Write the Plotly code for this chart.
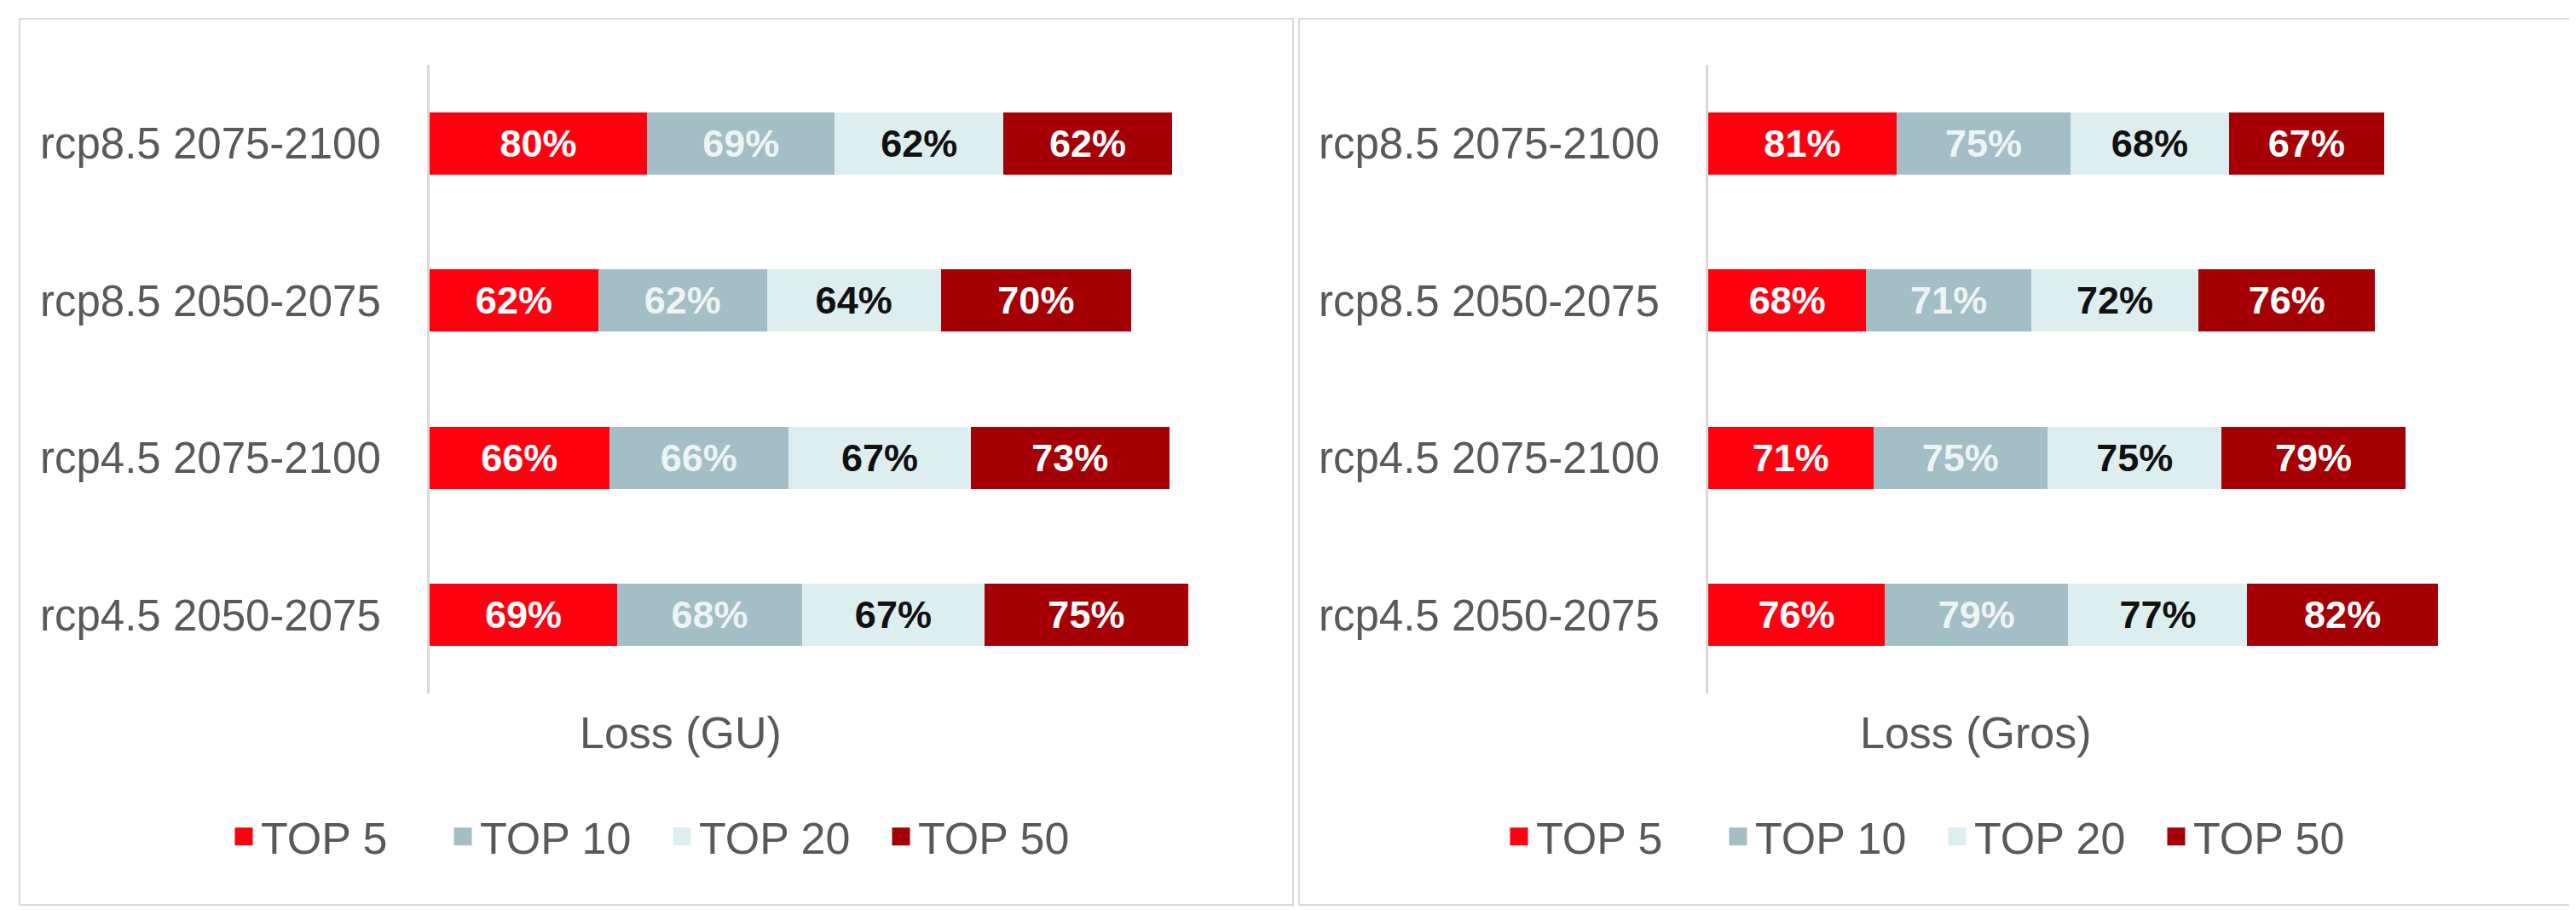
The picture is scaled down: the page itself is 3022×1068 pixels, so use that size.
import plotly.graph_objects as go

# data (% values)
scenarios = ["rcp8.5 2075-2100", "rcp8.5 2050-2075", "rcp4.5 2075-2100", "rcp4.5 2050-2075"]
groups = ["TOP 5", "TOP 10", "TOP 20", "TOP 50"]

loss_gu = {
    "TOP 5": [80, 62, 66, 69],
    "TOP 10": [69, 62, 66, 68],
    "TOP 20": [62, 64, 67, 67],
    "TOP 50": [62, 70, 73, 75],
}
loss_gros = {
    "TOP 5": [81, 68, 71, 76],
    "TOP 10": [75, 71, 75, 79],
    "TOP 20": [68, 72, 75, 77],
    "TOP 50": [67, 76, 79, 82],
}

colors = {"TOP 5": "#FF0010", "TOP 10": "#A3BEC4", "TOP 20": "#DDEEF0", "TOP 50": "#A50005"}
label_colors = {"TOP 5": "#FFFFFF", "TOP 10": "#EEF3F4", "TOP 20": "#111111", "TOP 50": "#FFFFFF"}

FONT = "Arial, Liberation Sans, sans-serif"
GREY = "#595959"
W, H = 3022, 1068

fig = go.Figure()

panels = [
    (loss_gu, "x", "y", "legend"),
    (loss_gros, "x2", "y2", "legend2"),
]
for data, xa, ya, leg in panels:
    for g in groups:
        fig.add_trace(go.Bar(
            y=scenarios, x=data[g], name=g, orientation="h",
            xaxis=xa, yaxis=ya,
            marker=dict(color=colors[g], line=dict(width=0)),
            texttemplate="%{x}%", textposition="inside",
            insidetextanchor="middle", textangle=0,
            textfont=dict(family=FONT, size=45, color=label_colors[g], weight="bold"),
            showlegend=False, hoverinfo="skip",
        ))
    # legend entries (bigger squares than the bar legend icon)
    for g in groups:
        fig.add_trace(go.Scatter(
            x=[None], y=[None], mode="markers", name=g,
            xaxis=xa, yaxis=ya, legend=leg,
            marker=dict(symbol="square", size=16, color=colors[g],
                        line=dict(color=colors[g], width=5)),
        ))

ydom = [1 - 806 / H, 1 - 68 / H]
yax = dict(
    domain=ydom, categoryarray=scenarios, categoryorder="array", autorange="reversed",
    showline=True, linecolor="#D9D9D9", linewidth=3, showgrid=False, zeroline=False,
    ticks="", ticklabelstandoff=44, fixedrange=True,
    tickfont=dict(family=FONT, size=51, color=GREY),
)
xax = dict(visible=False, showgrid=False, zeroline=False, fixedrange=True)
leg_common = dict(orientation="h", xanchor="center", y=1 - 974 / H, yanchor="middle",
                  traceorder="normal", entrywidth=212, bgcolor="rgba(0,0,0,0)",
                  font=dict(family=FONT, size=52, color=GREY))

fig.update_layout(
    width=W, height=H,
    margin=dict(l=0, r=0, t=0, b=0),
    paper_bgcolor="white", plot_bgcolor="white",
    barmode="stack", bargap=0.605,
    font=dict(family=FONT, color=GREY),
    xaxis=dict(xax, domain=[496 / W, 1453 / W], range=[0, 300]),
    yaxis=dict(yax, anchor="x"),
    xaxis2=dict(xax, domain=[1996 / W, 2950 / W], range=[0, 350]),
    yaxis2=dict(yax, anchor="x2"),
    legend=dict(leg_common, x=772 / W),
    legend2=dict(leg_common, x=2268 / W),
    annotations=[
        dict(text="Loss (GU)", x=790 / W, y=1 - 852 / H, xref="paper", yref="paper",
             xanchor="center", yanchor="middle",
             showarrow=False, font=dict(family=FONT, size=52, color=GREY)),
        dict(text="Loss (Gros)", x=2310 / W, y=1 - 852 / H, xref="paper", yref="paper",
             xanchor="center", yanchor="middle",
             showarrow=False, font=dict(family=FONT, size=52, color=GREY)),
    ],
    shapes=[
        dict(type="rect", xref="paper", yref="paper", x0=15 / W, x1=1509 / W,
             y0=1 - 1054 / H, y1=1 - 14 / H, line=dict(color="#D9D9D9", width=2)),
        dict(type="rect", xref="paper", yref="paper", x0=1516 / W, x1=3007 / W,
             y0=1 - 1054 / H, y1=1 - 14 / H, line=dict(color="#D9D9D9", width=2)),
    ],
)

fig.write_html("out.html")
